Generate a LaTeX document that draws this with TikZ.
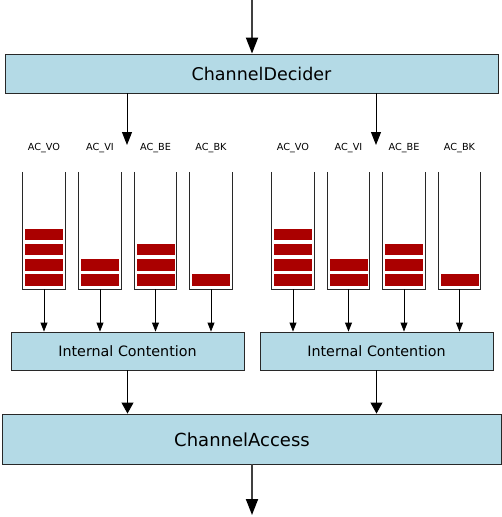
\documentclass[tikz,border=0pt]{standalone}
\usepackage{fontspec}
\setmainfont{DejaVu Sans}
\usetikzlibrary{arrows.meta}
\definecolor{boxblue}{RGB}{180,218,230}
\definecolor{pktred}{RGB}{170,0,0}
\definecolor{edge}{RGB}{40,40,40}
\tikzset{
  block/.style={draw=edge, line width=0.9pt, fill=boxblue, inner sep=0pt},
  queuebox/.style={minimum width=42pt, minimum height=117pt, inner sep=0pt},
  qwall/.style={draw=edge, line width=1pt},
  pkt/.style={fill=pktred, minimum width=38pt, minimum height=11.5pt, inner sep=0pt},
  aclabel/.style={font=\fontsize{9.7}{11}\selectfont},
  bigflow/.style={draw=black!75, line width=1.8pt, -{Triangle[length=16pt,width=12pt,color=black]}},
  midflow/.style={draw=black, line width=1pt, -{Triangle[length=13pt,width=10pt]}},
  smallflow/.style={draw=black, line width=0.9pt, -{Triangle[length=9pt,width=7pt]}},
  icflow/.style={draw=black, line width=1pt, -{Triangle[length=11pt,width=12pt]}},
}
\begin{document}
\begin{tikzpicture}[x=1pt,y=-1pt]
\useasboundingbox (0,0) rectangle (502,517);

% ChannelDecider
\node[block, minimum width=493pt, minimum height=39pt] (cd) at (251.5,73.5) {};
\node[font=\fontsize{17.5}{20}\selectfont] (cdtxt) at (261.5,74) {ChannelDecider};
\coordinate (in) at (252,0);
\draw[bigflow] (in) -- (cd.north -| in);

% decider outputs into both queue groups
\coordinate (dl) at (127,145);
\coordinate (dr) at (376,145);
\draw[midflow] (cd.south -| dl) -- (dl);
\draw[midflow] (cd.south -| dr) -- (dr);

% Internal Contention
\node[block, minimum width=233pt, minimum height=38pt] (icl) at (127.5,351) {};
\node[font=\fontsize{14.3}{17}\selectfont] at (icl.center) {Internal Contention};
\node[block, minimum width=233pt, minimum height=38pt] (icr) at (376.5,351) {};
\node[font=\fontsize{14.3}{17}\selectfont] at (icr.center) {Internal Contention};

% ChannelAccess
\node[block, minimum width=499pt, minimum height=50pt] (ca) at (252,439) {};
\node[font=\fontsize{18}{21}\selectfont] at (242,439.5) {ChannelAccess};
\coordinate (out) at (252,515);
\draw[bigflow] (ca.south -| out) -- (out);

\draw[icflow] (icl.south) -- (icl.south |- ca.north);
\draw[icflow] (icr.south) -- (icr.south |- ca.north);

% access-category queues: name / x / packets
\foreach \side/\ic/\xs in {l/icl/{44,100,155.5,211}, r/icr/{293,348.5,404,459.5}} {
  \foreach \xq [count=\i] in \xs {
    \ifcase\i\or\def\ac{AC\_VO}\def\n{4}\or\def\ac{AC\_VI}\def\n{2}\or\def\ac{AC\_BE}\def\n{3}\or\def\ac{AC\_BK}\def\n{1}\fi
    \node[queuebox] (q\side\i) at (\xq,230.5) {};
    \node[aclabel] (lab\side\i) at (\xq,148) {\ac};
    \draw[qwall] (q\side\i.north west) -- (q\side\i.south west) -- (q\side\i.south east) -- (q\side\i.north east);
    \foreach \k in {1,...,\n} {
      \node[pkt] at ([yshift={9.2pt+15.2pt*(\k-1)}]q\side\i.south) {};
    }
    \draw[smallflow] (q\side\i.south) -- (q\side\i.south |- \ic.north);
  }
}
\end{tikzpicture}
\end{document}
